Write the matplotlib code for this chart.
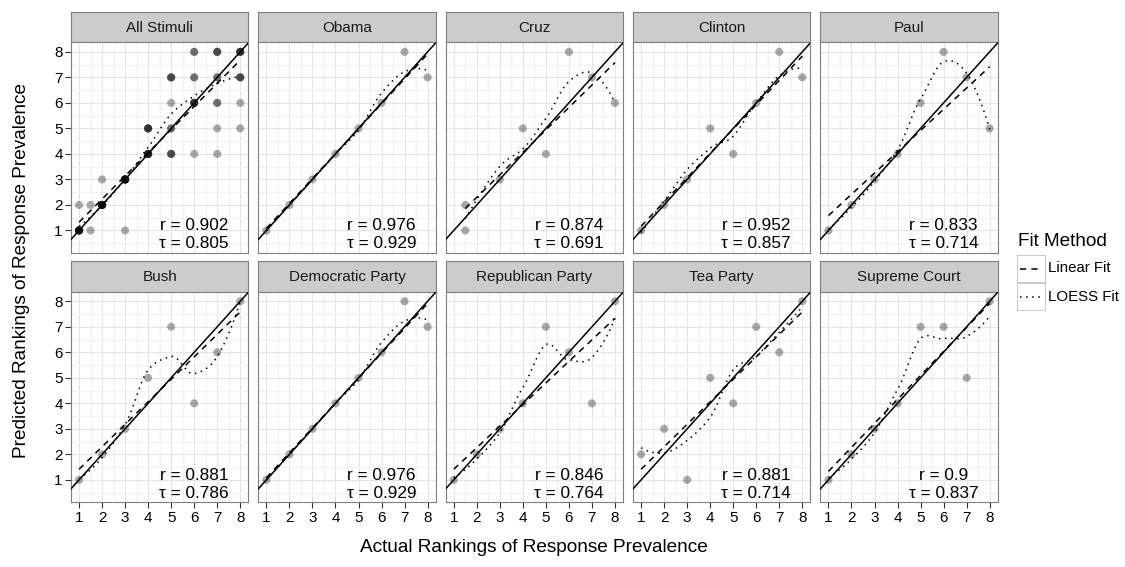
import numpy as np
import matplotlib
matplotlib.use("Agg")
import matplotlib.pyplot as plt

plt.rcParams['font.family'] = ['Liberation Sans', 'DejaVu Sans']

# panel names, in facet order
panel_names = ["All Stimuli", "Obama", "Cruz", "Clinton", "Paul",
               "Bush", "Democratic Party", "Republican Party", "Tea Party", "Supreme Court"]

# actual vs predicted rankings for each stimulus
obama_actual = [1, 2, 3, 4, 5, 6, 7, 8]
obama_pred = [1, 2, 3, 4, 5, 6, 8, 7]
cruz_actual = [1.5, 1.5, 3, 4, 5, 6, 7, 8]
cruz_pred = [2, 1, 3, 5, 4, 8, 7, 6]
clinton_actual = [1, 2, 3, 4, 5, 6, 7, 8]
clinton_pred = [1, 2, 3, 5, 4, 6, 8, 7]
paul_actual = [1, 2, 3, 4, 5, 6, 7, 8]
paul_pred = [1, 2, 3, 4, 6, 8, 7, 5]
bush_actual = [1, 2, 3, 4, 5, 6, 7, 8]
bush_pred = [1, 2, 3, 5, 7, 4, 6, 8]
dem_actual = [1, 2, 3, 4, 5, 6, 7, 8]
dem_pred = [1, 2, 3, 4, 5, 6, 8, 7]
rep_actual = [1, 2, 3, 4, 5, 6, 7, 8]
rep_pred = [1, 2, 3, 4, 7, 6, 4, 8]
tea_actual = [1, 2, 3, 4, 5, 6, 7, 8]
tea_pred = [2, 3, 1, 5, 4, 7, 6, 8]
court_actual = [1, 2, 3, 4, 5, 6, 7, 8]
court_pred = [1, 2, 3, 4, 7, 7, 5, 8]

# correlation labels
r_vals = [0.902, 0.976, 0.874, 0.952, 0.833, 0.881, 0.976, 0.846, 0.881, 0.9]
tau_vals = [0.805, 0.929, 0.691, 0.857, 0.714, 0.786, 0.929, 0.764, 0.714, 0.837]

stim_x = [obama_actual, cruz_actual, clinton_actual, paul_actual, bush_actual,
          dem_actual, rep_actual, tea_actual, court_actual]
stim_y = [obama_pred, cruz_pred, clinton_pred, paul_pred, bush_pred,
          dem_pred, rep_pred, tea_pred, court_pred]

# "All Stimuli" panel pools every stimulus
all_x = [v for xs in stim_x for v in xs]
all_y = [v for ys in stim_y for v in ys]
panel_x = [all_x] + stim_x
panel_y = [all_y] + stim_y


def local_fit(x, y, x0, q):
    # local quadratic with tricube weights -> value and slope at x0
    d = np.abs(x - x0)
    h = np.sort(d)[q - 1]
    w = np.clip(1 - (d / h) ** 3, 0, None) ** 3
    X = np.column_stack([np.ones(len(x)), x - x0, (x - x0) ** 2])
    sw = np.sqrt(w)
    beta = np.linalg.lstsq(X * sw[:, None], y * sw, rcond=None)[0]
    return beta[0], beta[1]


def kd_vertices(xs, fc):
    # 1-d version of R loess kd tree (splits land on data values)
    xs = np.sort(xs)
    n = len(xs)
    mu = 0.005 * max(xs[-1] - xs[0], 1e-10)
    verts = {xs[0] - mu, xs[-1] + mu}

    def split(l, u, vlo, vhi):
        if u - l + 1 <= fc:
            return
        m = (l + u) // 2
        off = 0
        while not (m + off >= u or m + off < l):
            if xs[m + off - 1] == xs[m + off]:
                off = -off
                if off >= 0:
                    off += 1
            else:
                m = m + off
                break
        xi = xs[m - 1]
        if xi == vlo or xi == vhi:
            return
        verts.add(xi)
        split(l, m, vlo, xi)
        split(m + 1, u, xi, vhi)

    split(1, n, xs[0] - mu, xs[-1] + mu)
    return np.array(sorted(verts))


def loess(x, y, grid, span=0.75, cell=0.2):
    # loess with surface = "interpolate": fit at vertices, cubic hermite in between
    x = np.asarray(x, float)
    y = np.asarray(y, float)
    n = len(x)
    q = int(np.floor(n * span))
    fc = int(np.floor(n * span * cell))
    v = kd_vertices(x, fc)
    vals = np.array([local_fit(x, y, vv, q) for vv in v])
    out = []
    for g in grid:
        j = min(max(np.searchsorted(v, g) - 1, 0), len(v) - 2)
        h = v[j + 1] - v[j]
        u = (g - v[j]) / h
        phi0 = (1 - u) ** 2 * (1 + 2 * u)
        phi1 = u ** 2 * (3 - 2 * u)
        psi0 = u * (1 - u) ** 2
        psi1 = -u ** 2 * (1 - u)
        out.append(phi0 * vals[j, 0] + phi1 * vals[j + 1, 0]
                   + (psi0 * vals[j, 1] + psi1 * vals[j + 1, 1]) * h)
    return np.array(out)


W, H = 1125, 567
fig = plt.figure(figsize=(W / 100, H / 100), dpi=100)


def px_axes(left, top, width, height):
    return fig.add_axes([left / W, 1 - (top + height) / H, width / W, height / H])


pw, ph = 177.3, 210.5
for i, name in enumerate(panel_names):
    row, col = i // 5, i % 5
    left = 71 + col * 187.35
    top = 42.3 if row == 0 else 291.7

    # strip
    st = px_axes(left, top - 30.5, pw, 30.5)
    st.set_facecolor('#cccccc')
    st.set_xticks([])
    st.set_yticks([])
    for s in st.spines.values():
        s.set_color('#7f7f7f')
        s.set_linewidth(0.8)
    st.text(0.5, 0.48, name, ha='center', va='center', fontsize=11, color='#1a1a1a',
            transform=st.transAxes)

    ax = px_axes(left, top, pw, ph)
    x = np.array(panel_x[i], float)
    y = np.array(panel_y[i], float)

    ax.scatter(x, y, s=34, color='black', alpha=0.33, edgecolors='none', zorder=3)
    ax.axline((0, 0), slope=1, color='black', lw=1.1, zorder=4)

    grid = np.linspace(x.min(), x.max(), 80)
    slope, icpt = np.polyfit(x, y, 1)
    ax.plot(grid, icpt + slope * grid, color='black', lw=1.1, dashes=(4, 3.5), zorder=5)
    ax.plot(grid, loess(x, y, grid), color='black', lw=1.1, dashes=(1, 3), zorder=5)

    ax.text(6, 1.19, "r = " + str(r_vals[i]), ha='center', va='center', fontsize=12.4, zorder=6)
    ax.text(6, 0.47, "τ = " + str(tau_vals[i]), ha='center', va='center', fontsize=12.4, zorder=6)

    ax.set_xlim(0.65, 8.35)
    ax.set_ylim(0.125, 8.375)
    ax.set_xticks(range(1, 9))
    ax.set_yticks(range(1, 9))
    ax.set_xticks(np.arange(1.5, 8, 1), minor=True)
    ax.set_yticks(np.arange(0.5, 8, 1), minor=True)
    ax.grid(which='major', color='#e4e4e4', lw=0.8)
    ax.grid(which='minor', color='#f3f3f3', lw=1.0)
    ax.set_axisbelow(True)
    for s in ax.spines.values():
        s.set_color('#7f7f7f')
        s.set_linewidth(0.8)
    ax.tick_params(which='minor', length=0)
    ax.tick_params(which='major', length=4, width=0.8, color='#333333',
                   labelsize=11, pad=2)
    if col != 0:
        ax.tick_params(left=False, labelleft=False)
    if row == 0:
        ax.tick_params(bottom=False, labelbottom=False)

fig.text(533.8 / W, 1 - 548 / H, "Actual Rankings of Response Prevalence",
         ha='center', va='center', fontsize=13.7)
fig.text(22 / W, 1 - 271 / H, "Predicted Rankings of Response Prevalence",
         ha='center', va='center', rotation=90, fontsize=13.7)

# legend drawn by hand so the keys get their grey boxes
fig.text(1017.7 / W, 1 - 241.7 / H, "Fit Method", ha='left', va='center', fontsize=13.7)
legend_labels = ["Linear Fit", "LOESS Fit"]
legend_dashes = [(4, 3.5), (1, 3)]
for k, lab in enumerate(legend_labels):
    kt = 255 + k * 28
    key = px_axes(1016.7, kt, 28, 27)
    key.set_xlim(0, 1)
    key.set_ylim(0, 1)
    key.set_xticks([])
    key.set_yticks([])
    for s in key.spines.values():
        s.set_color('#cccccc')
        s.set_linewidth(0.8)
    key.plot([0.1, 0.9], [0.5, 0.5], color='black', lw=1.1, dashes=legend_dashes[k])
    fig.text(1048 / W, 1 - (kt + 13.5) / H, lab, ha='left', va='center', fontsize=10.8)

fig.savefig("out.png", dpi=100)
